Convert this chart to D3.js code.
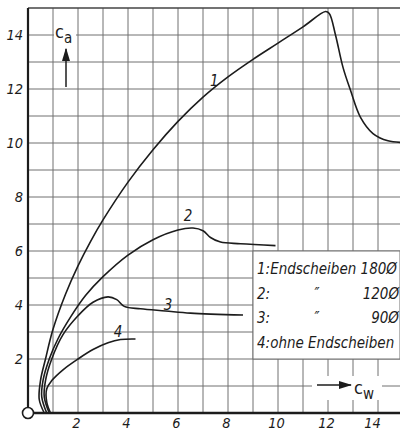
<!doctype html>
<html>
<head>
<meta charset="utf-8">
<script src="https://d3js.org/d3.v7.min.js"></script>
<style>
  body { margin: 0; background: #fff; }
  svg text { font-family: "DejaVu Sans Condensed", "Liberation Sans Narrow", "DejaVu Sans", sans-serif; font-style: italic; fill: #1c1c1c; }
</style>
</head>
<body>
<svg id="chart" width="400" height="433"></svg>
<script>
// tick labels
const cwTicks = [2, 4, 6, 8, 10, 12, 14];
const caTicks = [2, 4, 6, 8, 10, 12, 14];

// curves, [cw, ca]
const curve1 = [[0.65,0],[0.45,0.5],[0.5,1.2],[0.7,2.0],[1.0,3.1],[1.5,4.4],[2.0,5.45],[2.5,6.35],[3.0,7.15],[4.0,8.55],
  [5.0,9.75],[6.0,10.8],[7.0,11.7],[8.0,12.45],[9.0,13.1],[10.0,13.7],[11.0,14.3],[11.9,14.87],[12.05,14.8],
  [12.3,14.0],[12.6,12.8],[12.9,11.95],[13.3,10.95],[13.8,10.35],[14.4,10.08],[15.0,10.02]];
const curve2 = [[0.75,0],[0.55,0.6],[0.6,1.2],[0.85,2.0],[1.2,2.75],[1.7,3.55],[2.3,4.35],[3.0,5.05],[4.0,5.85],[5.0,6.42],
  [6.0,6.78],[6.6,6.85],[7.0,6.75],[7.3,6.5],[7.7,6.33],[8.5,6.27],[9.9,6.2]];
const curve3 = [[0.85,0],[0.65,0.6],[0.7,1.2],[0.95,2.0],[1.4,2.9],[2.0,3.6],[2.6,4.1],[3.2,4.3],[3.55,4.2],[3.85,3.95],
  [4.5,3.86],[5.5,3.78],[6.5,3.7],[8.6,3.63]];
const curve4 = [[0.9,0],[0.75,0.4],[0.75,0.9],[0.95,1.2],[1.4,1.6],[2.0,2.0],[2.6,2.35],[3.2,2.6],[3.7,2.72],[4.3,2.74]];

const curveNames = ["1", "2", "3", "4"];
const curveLabelAt = [[7.45,12.3],[6.4,7.3],[5.6,4.0],[3.6,3.0]];

const legendLines = ["1:Endscheiben 180Ø", "2:", "3:", "4:ohne Endscheiben"];
const legendDitto = ["", "″", "″", ""];
const legendRight = ["", "120Ø", "90Ø", ""];

const svg = d3.select("#chart");
const x = d3.scaleLinear().domain([0, 14.88]).range([28, 400]);
const y = d3.scaleLinear().domain([0, 15]).range([413, 8]);

svg.append("defs").append("marker")
  .attr("id", "head").attr("viewBox", "0 0 10 10").attr("refX", 9).attr("refY", 5)
  .attr("markerWidth", 9).attr("markerHeight", 9).attr("orient", "auto")
  .append("path").attr("d", "M0,2 L10,5 L0,8 Z").attr("fill", "#1c1c1c");

// grid
const grid = svg.append("g").attr("stroke", "#707070").attr("stroke-width", 1);
grid.selectAll(".v").data(d3.range(1, 15)).enter().append("line")
  .attr("x1", d => x(d)).attr("x2", d => x(d)).attr("y1", y(15)).attr("y2", y(0));
grid.selectAll(".h").data(d3.range(1, 15)).enter().append("line")
  .attr("x1", x(0)).attr("x2", 400).attr("y1", d => y(d)).attr("y2", d => y(d));
svg.append("line").attr("x1", x(0)).attr("x2", 400).attr("y1", y(15)).attr("y2", y(15))
  .attr("stroke", "#444").attr("stroke-width", 1.5);

// legend box
svg.append("rect").attr("x", x(9)).attr("y", y(6)).attr("width", 400 - x(9)).attr("height", y(2) - y(6))
  .attr("fill", "#fff").attr("stroke", "#707070").attr("stroke-width", 1);
const leg = svg.append("g").style("font-size", "15px");
legendLines.forEach((t, i) => {
  const by = y(6) + 23 + i * 24.5;
  leg.append("text").attr("x", x(9) + 4).attr("y", by).text(t);
  leg.append("text").attr("x", 317).attr("y", by).attr("text-anchor", "middle").text(legendDitto[i]);
  leg.append("text").attr("x", 399).attr("y", by).attr("text-anchor", "end").text(legendRight[i]);
});

// axes
const yAxis = svg.append("g").attr("transform", `translate(${x(0)},0)`)
  .call(d3.axisLeft(y).tickValues(caTicks).tickSize(0).tickPadding(5));
yAxis.select(".domain").remove();
const xAxis = svg.append("g").attr("transform", `translate(0,${y(0)})`)
  .call(d3.axisBottom(x).tickValues(cwTicks).tickSize(0).tickPadding(5));
xAxis.select(".domain").remove();
svg.selectAll(".tick text").style("font-size", "14.5px").attr("font-family", null);
xAxis.selectAll(".tick text").attr("dx", d => d === 14 ? -6 : -2);

svg.append("line").attr("x1", x(0)).attr("x2", x(0)).attr("y1", y(15)).attr("y2", y(0))
  .attr("stroke", "#1c1c1c").attr("stroke-width", 2.2);
svg.append("line").attr("x1", x(0)).attr("x2", 400).attr("y1", y(0)).attr("y2", y(0))
  .attr("stroke", "#1c1c1c").attr("stroke-width", 2.4);

// curves
const line = d3.line().x(d => x(d[0])).y(d => y(d[1])).curve(d3.curveCatmullRom.alpha(0.5));
[curve1, curve2, curve3, curve4].forEach(c => {
  svg.append("path").attr("d", line(c)).attr("fill", "none")
    .attr("stroke", "#1c1c1c").attr("stroke-width", 1.6);
});
curveNames.forEach((n, i) => {
  svg.append("text").attr("x", x(curveLabelAt[i][0])).attr("y", y(curveLabelAt[i][1]))
    .attr("text-anchor", "middle").attr("dy", "0.35em").style("font-size", "15px").text(n);
});

// origin circle
svg.append("circle").attr("cx", x(0)).attr("cy", y(0)).attr("r", 5.5)
  .attr("fill", "#fff").attr("stroke", "#1c1c1c").attr("stroke-width", 1.6);

// c_a label with arrow
const ya = svg.append("g");
ya.append("rect").attr("x", 54).attr("y", 24).attr("width", 22).attr("height", 20).attr("fill", "#fff");
const ta = ya.append("text").attr("x", 55).attr("y", 38).style("font-size", "18px").style("font-style", "normal");
ta.append("tspan").text("c");
ta.append("tspan").attr("dy", 5).style("font-size", "15px").text("a");
ya.append("line").attr("x1", 66).attr("x2", 66).attr("y1", 87).attr("y2", 49)
  .attr("stroke", "#1c1c1c").attr("stroke-width", 1.5).attr("marker-end", "url(#head)");

// c_w label with arrow
const xa = svg.append("g");
xa.append("rect").attr("x", 312).attr("y", 376).attr("width", 70).attr("height", 24).attr("fill", "#fff");
xa.append("line").attr("x1", 317).attr("x2", 351).attr("y1", 385).attr("y2", 385)
  .attr("stroke", "#1c1c1c").attr("stroke-width", 1.5).attr("marker-end", "url(#head)");
const tw = xa.append("text").attr("x", 354).attr("y", 394).style("font-size", "18px").style("font-style", "normal");
tw.append("tspan").text("c");
tw.append("tspan").attr("dy", 5).style("font-size", "15px").text("w");
</script>
</body>
</html>
